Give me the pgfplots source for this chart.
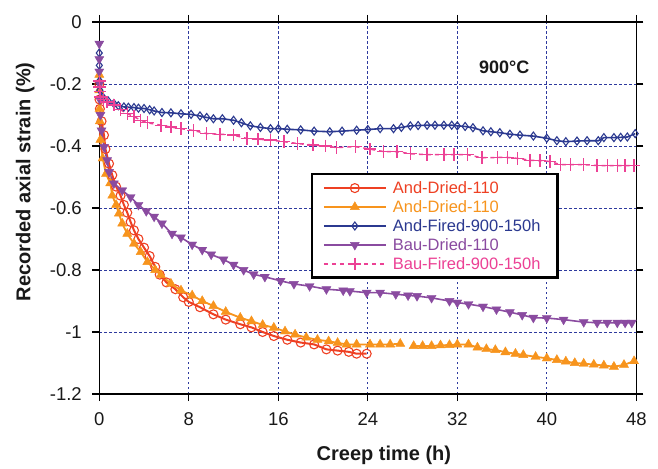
\documentclass[border=0pt]{standalone}
\usepackage{fontspec}
\setmainfont{Liberation Sans}
\usepackage{pgfplots}
\pgfplotsset{compat=1.18}
\definecolor{cRed}{HTML}{EE4023}
\definecolor{cOrange}{HTML}{F7941D}
\definecolor{cBlue}{HTML}{2B3990}
\definecolor{cPurple}{HTML}{8A4BA0}
\definecolor{cPink}{HTML}{EC4195}
\definecolor{gridblue}{HTML}{2E3A9E}
\begin{document}
\begin{tikzpicture}
\begin{axis}[
  scale only axis, width=537bp, height=372bp,
  xmin=0, xmax=48, ymin=-1.2, ymax=0,
  xtick={0,8,16,24,32,40,48},
  xticklabels={0,8,16,24,32,40,48},
  ytick={-1.2,-1,-0.8,-0.6,-0.4,-0.2,0},
  yticklabels={-1.2,-1,-0.8,-0.6,-0.4,-0.2,0},
  tick label style={font=\fontsize{18.5bp}{21bp}\selectfont, text=black!90},
  xticklabel style={yshift=-8bp},
  yticklabel style={xshift=-7bp},
  tick align=outside, major tick length=7bp,
  every tick/.style={black, line width=1.1bp},
  axis line style={line width=1.2bp, black},
  grid=major,
  grid style={color=gridblue, line width=0.8bp, dash pattern=on 2.5bp off 2.5bp},
  xlabel={Creep time (h)},
  ylabel={Recorded axial strain (\%)},
  label style={font=\bfseries\fontsize{20bp}{24bp}\selectfont, text=black!90},
  xlabel style={at={(axis description cs:0.53,-0.166)}, anchor=center},
  ylabel style={at={(axis description cs:-0.138,0.57)}, anchor=center},
  unbounded coords=jump,
  legend image code/.code={\draw[mark repeat=2,mark phase=2,#1] plot coordinates {(0bp,0bp)(31bp,0bp)(62bp,0bp)};},
  legend style={at={(axis cs:18.9,-0.488)}, anchor=north west, draw=black, line width=2.2bp,
    font=\fontsize{16.5bp}{19bp}\selectfont, inner xsep=11bp, inner ysep=5bp, row sep=1.5bp,
    nodes={inner xsep=6bp}},
  legend cell align=left,
]
\addplot[color=cRed, line width=2bp, mark=o, mark size=4.5bp, mark options={line width=1.1bp, fill=none}] coordinates {
(0,-0.20)(0.02,-0.25)(0.05,-0.28)(0.2,-0.32)(0.42,-0.365)(0.55,-0.41)(0.87,-0.457)(1.16,-0.494)(1.5,-0.531)(1.9,-0.56)(2.2,-0.59)(2.5,-0.615)(2.8,-0.645)(3.1,-0.672)(3.5,-0.70)(4.0,-0.728)(4.5,-0.755)(5.0,-0.79)(5.4,-0.815)(6.0,-0.84)(6.8,-0.862)(7.5,-0.888)(8.0,-0.903)(9.0,-0.92)(10.2,-0.943)(11.3,-0.96)(12.6,-0.975)(13.6,-0.985)(14.6,-1.0)(15.6,-1.013)(16.8,-1.025)(18.0,-1.034)(19.2,-1.04)(20.3,-1.056)(21.3,-1.06)(22.3,-1.064)(23.0,-1.07)(23.9,-1.07)
};
\addlegendentry{\textcolor{cRed}{And-Dried-110}}
\addplot[color=cOrange, line width=1.8bp, mark=triangle*, mark size=5.3bp, mark options={line width=0.4bp}] coordinates {
(0,-0.17)(0,-0.22)(0.02,-0.28)(0.05,-0.32)(0.1,-0.38)(0.3,-0.44)(0.6,-0.49)(0.98,-0.52)(1.16,-0.56)(1.5,-0.59)(1.75,-0.618)(2.05,-0.65)(2.5,-0.683)(3.1,-0.715)(3.7,-0.742)(4.3,-0.774)(5.0,-0.80)(5.5,-0.816)(6.4,-0.844)(7.3,-0.866)(8.3,-0.882)(9.2,-0.9)(10.2,-0.916)(11.3,-0.935)(12.6,-0.954)(13.6,-0.965)(14.6,-0.977)(15.6,-0.986)(16.6,-0.998)(17.5,-1.008)(18.5,-1.018)(19.5,-1.025)(20.5,-1.03)(21.3,-1.035)(22.1,-1.04)(23.0,-1.04)(24.2,-1.04)(25.1,-1.04)(26.0,-1.04)(26.9,-1.038)(27.4,nan)(28.1,-1.045)(28.9,-1.045)(29.7,-1.045)(30.5,-1.043)(31.3,-1.042)(32.0,-1.04)(33.0,-1.04)(33.8,-1.05)(34.6,-1.055)(35.4,-1.058)(36.3,-1.065)(37.2,-1.07)(37.9,-1.074)(39.0,-1.08)(40.0,-1.085)(40.9,-1.09)(41.7,-1.095)(42.5,-1.1)(43.3,-1.102)(44.2,-1.105)(45.1,-1.108)(46.0,-1.112)(46.9,-1.106)(47.8,-1.094)
};
\addlegendentry{\textcolor{cOrange}{And-Dried-110}}
\addplot[color=cBlue, line width=1.6bp, mark=diamond, mark size=4bp, mark options={line width=1.1bp, fill=white}] coordinates {
(0,-0.10)(0,-0.14)(0.02,-0.19)(0.05,-0.22)(0.2,-0.24)(0.42,-0.247)(0.8,-0.255)(1.3,-0.263)(1.7,-0.27)(2.2,-0.274)(2.6,-0.275)(3.1,-0.276)(3.5,-0.278)(4.0,-0.279)(4.5,-0.283)(4.9,-0.287)(5.6,-0.292)(6.4,-0.293)(7.3,-0.296)(8.2,-0.298)(9.0,-0.303)(9.6,-0.308)(10.2,-0.312)(11.0,-0.312)(12.0,-0.317)(12.7,-0.325)(13.5,-0.335)(14.4,-0.34)(15.3,-0.344)(16.0,-0.344)(16.8,-0.346)(18.0,-0.348)(19.2,-0.352)(20.6,-0.354)(21.7,-0.352)(23.0,-0.349)(24.0,-0.347)(25.1,-0.344)(26.3,-0.344)(27.0,-0.34)(27.8,-0.335)(28.5,-0.334)(29.3,-0.333)(30.0,-0.333)(30.8,-0.333)(31.5,-0.333)(32.0,-0.335)(32.7,-0.337)(33.4,-0.341)(34.3,-0.351)(35.0,-0.354)(35.8,-0.357)(36.7,-0.362)(37.6,-0.365)(38.8,-0.368)(40.0,-0.375)(40.9,-0.383)(41.7,-0.386)(42.7,-0.384)(43.6,-0.383)(44.6,-0.383)(45.1,-0.373)(46.0,-0.373)(46.6,-0.372)(47.2,-0.371)(47.9,-0.36)
};
\addlegendentry{\textcolor{cBlue}{And-Fired-900-150h}}
\addplot[color=cPurple, line width=1.6bp, mark=triangle*, mark size=5.2bp, mark options={rotate=180, line width=0.4bp}] coordinates {
(0,-0.07)(0,-0.12)(0,-0.16)(0.02,-0.2)(0.05,-0.25)(0.1,-0.3)(0.2,-0.35)(0.42,-0.403)(0.7,-0.446)(0.87,-0.484)(1.3,-0.521)(2.05,-0.543)(2.8,-0.565)(3.5,-0.59)(4.2,-0.61)(4.9,-0.628)(5.6,-0.65)(6.5,-0.683)(7.3,-0.695)(8.3,-0.718)(9.2,-0.735)(10.0,-0.75)(11.1,-0.766)(12.0,-0.783)(12.9,-0.8)(13.8,-0.814)(14.8,-0.822)(16.2,-0.835)(17.4,-0.845)(18.8,-0.852)(20.3,-0.862)(21.8,-0.866)(22.4,-0.868)(23.9,-0.873)(25.1,-0.873)(26.5,-0.878)(27.6,-0.882)(28.4,-0.884)(29.7,-0.89)(31.3,-0.9)(32.0,-0.905)(33.0,-0.91)(34.3,-0.918)(35.5,-0.927)(36.7,-0.936)(37.8,-0.945)(38.8,-0.954)(40.0,-0.955)(41.5,-0.96)(43.3,-0.968)(44.5,-0.97)(45.4,-0.97)(46.3,-0.97)(47.0,-0.97)(47.6,-0.97)
};
\addlegendentry{\textcolor{cPurple}{Bau-Dried-110}}
\addplot[color=cPink, line width=1.5bp, dash pattern=on 4bp off 4bp, mark=+, mark size=6.3bp, mark options={solid, line width=1.4bp}] coordinates {
(0,-0.19)(0.02,-0.21)(0.05,-0.225)(0.1,-0.242)(0.4,-0.25)(0.7,-0.258)(1.3,-0.268)(1.9,-0.283)(2.5,-0.296)(3.1,-0.305)(3.7,-0.317)(4.3,-0.325)(5.5,-0.333)(6.4,-0.339)(7.3,-0.344)(8.4,-0.35)(9.6,-0.36)(10.8,-0.362)(12.0,-0.365)(13.2,-0.376)(14.2,-0.378)(15.3,-0.381)(16.5,-0.386)(17.7,-0.392)(19.1,-0.397)(20.2,-0.4)(21.2,-0.405)(22.9,-0.402)(24.2,-0.41)(25.4,-0.418)(26.6,-0.418)(27.8,-0.425)(29.3,-0.428)(30.8,-0.428)(31.7,-0.428)(32.9,-0.428)(34.2,-0.438)(35.6,-0.437)(36.5,-0.437)(37.4,-0.44)(38.5,-0.446)(39.4,-0.447)(40.3,-0.45)(41.2,-0.46)(42.1,-0.46)(43.3,-0.46)(44.5,-0.463)(45.4,-0.463)(46.3,-0.463)(47.0,-0.463)(47.8,-0.463)
};
\addlegendentry{\textcolor{cPink}{Bau-Fired-900-150h}}
\node[font=\bfseries\fontsize{18bp}{21bp}\selectfont, text=black!90] at (axis cs:36.2,-0.145) {900°C};
\end{axis}
\pgfresetboundingbox
\path[use as bounding box] ([shift={(-99.3bp,-75bp)}]current axis.south west) rectangle ++(658bp,469bp);
\end{tikzpicture}
\end{document}
